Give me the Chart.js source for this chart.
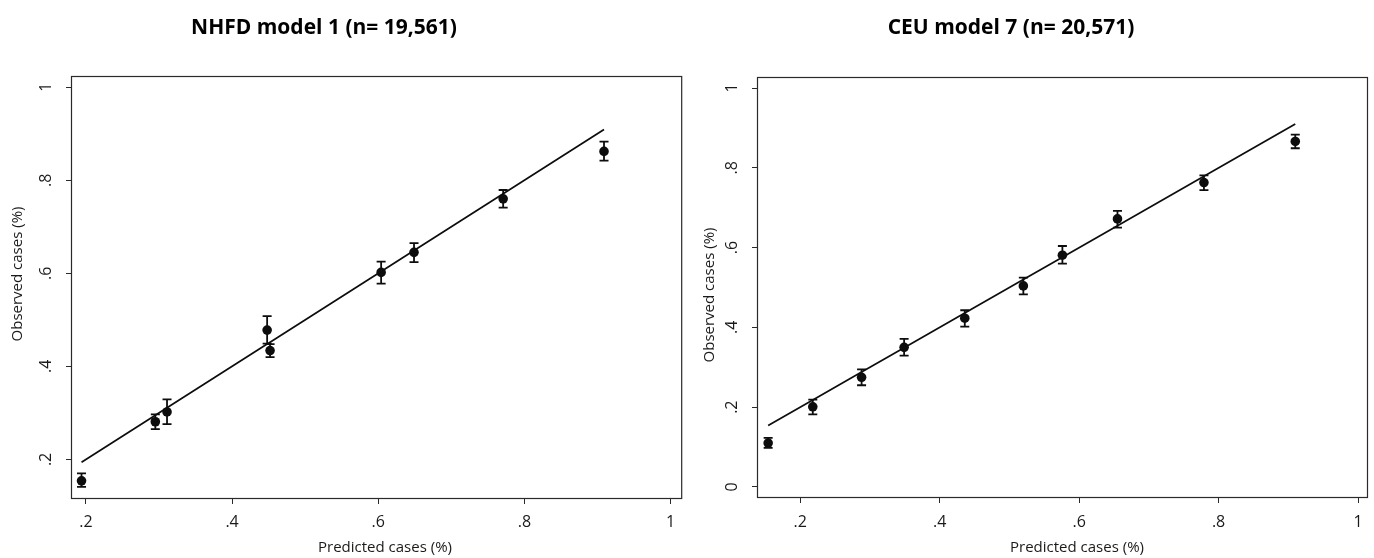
<!DOCTYPE html>
<html>
<head>
<meta charset="utf-8">
<script src="https://cdn.jsdelivr.net/npm/chart.js@4.4.1/dist/chart.umd.min.js"></script>
<style>
  html, body { margin: 0; padding: 0; background: #fff; }
  #wrap { position: relative; width: 1374px; height: 558px; }
  canvas { position: absolute; top: 0; }
  #left { left: 0; }
  #right { left: 687px; }
</style>
</head>
<body>
<div id="wrap">
  <canvas id="left" width="687" height="558"></canvas>
  <canvas id="right" width="687" height="558"></canvas>
</div>
<script>
const NHFD_TITLE = 'NHFD model 1 (n= 19,561)',
  CEU_TITLE = 'CEU model 7 (n= 20,571)',
  X_TITLE = 'Predicted cases (%)',
  Y_TITLE = 'Observed cases (%)';

// NHFD model 1: predicted vs observed with 95% CI
const nhfdPred = [0.194, 0.295, 0.311, 0.448, 0.452, 0.604, 0.649, 0.771, 0.909];
const nhfdObs  = [0.154, 0.281, 0.302, 0.478, 0.434, 0.602, 0.645, 0.760, 0.862];
const nhfdLo   = [0.141, 0.265, 0.276, 0.449, 0.420, 0.578, 0.624, 0.741, 0.842];
const nhfdHi   = [0.170, 0.297, 0.329, 0.508, 0.448, 0.625, 0.665, 0.779, 0.883];

// CEU model 7
const ceuPred = [0.154, 0.218, 0.288, 0.349, 0.436, 0.520, 0.576, 0.655, 0.779, 0.910];
const ceuObs  = [0.110, 0.201, 0.275, 0.350, 0.423, 0.504, 0.581, 0.672, 0.763, 0.866];
const ceuLo   = [0.098, 0.182, 0.255, 0.329, 0.402, 0.483, 0.560, 0.650, 0.744, 0.849];
const ceuHi   = [0.123, 0.219, 0.295, 0.371, 0.443, 0.525, 0.604, 0.692, 0.781, 0.883];

const X_TICKS = [0.2, 0.4, 0.6, 0.8, 1],
  X_TICK_LABELS = ['.2', '.4', '.6', '.8', '1'],
  NHFD_Y_TICKS = [0.2, 0.4, 0.6, 0.8, 1],
  NHFD_Y_TICK_LABELS = ['.2', '.4', '.6', '.8', '1'],
  CEU_Y_TICKS = [0, 0.2, 0.4, 0.6, 0.8, 1],
  CEU_Y_TICK_LABELS = ['0', '.2', '.4', '.6', '.8', '1'];

const INK = '#0d0d0d', FRAME = '#2a2a2a', TEXT = '#1a1a1a',
  FONT = '"Open Sans", "Noto Sans", sans-serif';

// draws the Stata-like frame, rotated y labels, titles and CI bars
const stataPlugin = {
  id: 'stata',
  afterDatasetsDraw(chart, args, o) {
    const ctx = chart.ctx, xs = chart.scales.x, ys = chart.scales.y;
    ctx.save();
    ctx.strokeStyle = INK;
    ctx.lineWidth = 1.8;
    for (let i = 0; i < o.pred.length; i++) {
      const px = xs.getPixelForValue(o.pred[i]),
        y1 = ys.getPixelForValue(o.lo[i]),
        y2 = ys.getPixelForValue(o.hi[i]);
      ctx.beginPath();
      ctx.moveTo(px, y1); ctx.lineTo(px, y2);
      ctx.moveTo(px - 4.5, y1); ctx.lineTo(px + 4.5, y1);
      ctx.moveTo(px - 4.5, y2); ctx.lineTo(px + 4.5, y2);
      ctx.stroke();
    }
    ctx.restore();
  },
  afterDraw(chart, args, o) {
    const ctx = chart.ctx, a = chart.chartArea, xs = chart.scales.x, ys = chart.scales.y;
    ctx.save();
    ctx.strokeStyle = FRAME;
    ctx.lineWidth = 1.2;
    ctx.strokeRect(a.left + 0.5, a.top + 0.5, a.right - a.left - 1, a.bottom - a.top - 1);

    ctx.fillStyle = TEXT;
    ctx.textAlign = 'center';
    ctx.textBaseline = 'middle';
    ctx.font = '16px ' + FONT;
    o.xTicks.forEach((v, i) => ctx.fillText(o.xLabels[i], xs.getPixelForValue(v), o.xTickY));
    o.yTicks.forEach((v, i) => {
      ctx.save();
      ctx.translate(o.yTickX, ys.getPixelForValue(v));
      ctx.rotate(-Math.PI / 2);
      ctx.fillText(o.yLabels[i], 0, 0);
      ctx.restore();
    });

    ctx.font = '15px ' + FONT;
    ctx.fillText(X_TITLE, o.xTitleX, o.xTitleY);
    ctx.save();
    ctx.translate(o.yTitleX, o.yTitleY);
    ctx.rotate(-Math.PI / 2);
    ctx.fillText(Y_TITLE, 0, 0);
    ctx.restore();

    ctx.font = 'bold 21px ' + FONT;
    ctx.fillStyle = '#000';
    ctx.fillText(o.title, o.titleX, 28);
    ctx.restore();
  }
};

function makeChart(el, pred, obs, lo, hi, cfg) {
  const points = pred.map((p, i) => ({ x: p, y: obs[i] }));
  const diag = pred.slice().sort((a, b) => a - b).map(p => ({ x: p, y: p }));
  return new Chart(el, {
    type: 'scatter',
    data: {
      datasets: [{
        data: points,
        pointRadius: 4.8,
        pointBackgroundColor: INK,
        pointBorderWidth: 0,
        order: 1
      }, {
        data: diag,
        showLine: true,
        borderColor: INK,
        borderWidth: 1.7,
        pointRadius: 0,
        order: 2
      }]
    },
    options: {
      responsive: false,
      animation: false,
      events: [],
      layout: { padding: cfg.padding },
      plugins: {
        legend: { display: false },
        tooltip: { enabled: false },
        stata: {
          pred: pred, lo: lo, hi: hi,
          xTicks: X_TICKS, xLabels: X_TICK_LABELS,
          yTicks: cfg.yTicks, yLabels: cfg.yLabels,
          xTickY: 522, yTickX: cfg.yTickX,
          xTitleX: cfg.xTitleX, xTitleY: 548,
          yTitleX: cfg.yTitleX, yTitleY: cfg.yTitleY,
          title: cfg.title, titleX: cfg.titleX
        }
      },
      scales: {
        x: {
          type: 'linear',
          min: cfg.xMin, max: cfg.xMax,
          afterBuildTicks: s => { s.ticks = X_TICKS.map(v => ({ value: v })); },
          afterFit: s => { s.height = cfg.xHeight; },
          ticks: { display: false },
          border: { display: false },
          grid: { drawOnChartArea: false, drawTicks: true, tickLength: 5, color: FRAME, lineWidth: 1 }
        },
        y: {
          type: 'linear',
          min: cfg.yMin, max: cfg.yMax,
          afterBuildTicks: s => { s.ticks = cfg.yTicks.map(v => ({ value: v })); },
          afterFit: s => { s.width = cfg.yWidth; },
          ticks: { display: false },
          border: { display: false },
          grid: { drawOnChartArea: false, drawTicks: true, tickLength: 5, color: FRAME, lineWidth: 1 }
        }
      }
    },
    plugins: [stataPlugin]
  });
}

makeChart(document.getElementById('left'), nhfdPred, nhfdObs, nhfdLo, nhfdHi, {
  padding: { left: 0, top: 76, right: 1, bottom: 0 },
  yWidth: 71, xHeight: 59,
  xMin: 0.1796, xMax: 1.016, yMin: 0.115, yMax: 1.024,
  yTicks: NHFD_Y_TICKS, yLabels: NHFD_Y_TICK_LABELS,
  yTickX: 46, xTitleX: 385, yTitleX: 18, yTitleY: 274,
  title: NHFD_TITLE, titleX: 324
});

makeChart(document.getElementById('right'), ceuPred, ceuObs, ceuLo, ceuHi, {
  padding: { left: 0, top: 77, right: 6, bottom: 0 },
  yWidth: 70, xHeight: 60,
  xMin: 0.138, xMax: 1.0143, yMin: -0.0276, yMax: 1.0276,
  yTicks: CEU_Y_TICKS, yLabels: CEU_Y_TICK_LABELS,
  yTickX: 45, xTitleX: 390, yTitleX: 23, yTitleY: 295,
  title: CEU_TITLE, titleX: 324
});
</script>
</body>
</html>
